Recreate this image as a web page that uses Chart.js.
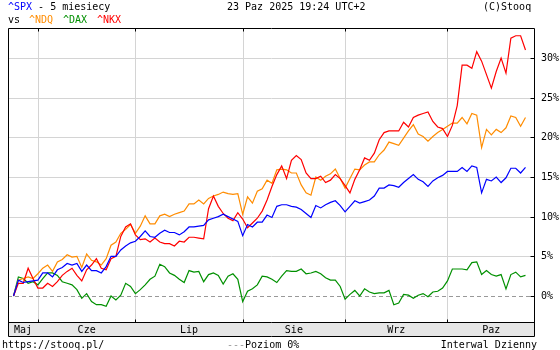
<!DOCTYPE html>
<html><head><meta charset="utf-8">
<script src="https://cdn.jsdelivr.net/npm/chart.js@4/dist/chart.umd.min.js"></script>
<style>
html,body{margin:0;padding:0;background:#fff;}
#wrap{position:relative;width:560px;height:350px;overflow:hidden;background:#fff;}
canvas{position:absolute;left:0;top:0;}
.t{position:absolute;font:10px "DejaVu Sans Mono",monospace;line-height:12px;white-space:pre;color:#000;}
</style></head><body>
<div id="wrap">
<canvas id="c" width="560" height="350"></canvas>
<div class="t" style="left:8px;top:1px"><span style="color:#0000ff">^SPX</span> - 5 miesiecy</div>
<div class="t" style="left:227px;top:1px">23 Paz 2025 19:24 UTC+2</div>
<div class="t" style="left:483px;top:1px">(C)Stooq</div>
<div class="t" style="left:8px;top:14px">vs</div>
<div class="t" style="left:29px;top:14px;color:#ff8c00">^NDQ</div>
<div class="t" style="left:63px;top:14px;color:#009000">^DAX</div>
<div class="t" style="left:97px;top:14px;color:#ff0000">^NKX</div>
<div class="t" style="left:2px;top:339px">https://stooq.pl/</div>
<div class="t" style="left:227px;top:339px"><span style="color:#999">---</span>Poziom 0%</div>
<div class="t" style="right:23px;top:339px">Interwal Dzienny</div>
</div>
<script>
// ---- data (percent change vs. first day), one value per trading day ----
const months = ["Maj","Cze","Lip","Sie","Wrz","Paz"];
const monthStart = [5, 25, 47, 68, 89];   // index of first trading day of Jun..Oct
const yTicks = [0, 5, 10, 15, 20, 25, 30];

const spx = [0,2.0,1.7,1.8,1.9,2.0,2.9,2.9,2.4,3.3,3.6,4.1,3.9,4.1,3.1,3.9,3.2,3.2,2.9,3.7,5.0,5.0,5.8,6.3,6.7,6.9,7.5,
 8.2,7.5,7.4,7.9,8.3,8.0,8.0,7.7,8.1,8.7,8.7,8.8,8.9,9.6,9.8,10.0,10.3,10.0,9.7,9.4,7.6,9.0,8.7,9.3,9.3,10.2,
 9.9,11.3,11.5,11.5,11.3,11.2,10.9,10.4,9.9,11.4,11.1,11.5,11.8,12.0,11.4,10.6,11.3,12.0,11.7,11.9,12.1,12.6,13.6,13.6,14.0,13.9,13.7,
 14.3,14.8,15.3,14.7,14.4,13.8,14.5,14.9,15.2,15.7,15.7,15.7,16.2,15.7,16.4,16.2,13.0,14.7,14.5,15.0,14.3,14.9,16.1,16.1,15.5,16.2];

const ndq = [0,2.0,2.2,2.4,2.2,2.8,3.5,3.9,3.1,4.3,4.6,5.2,4.9,5.0,3.6,5.3,4.5,4.3,3.9,4.7,6.4,6.8,7.9,8.4,9.0,7.9,8.8,
 10.1,9.1,9.1,10.1,10.3,10.0,10.3,10.5,10.7,11.6,11.6,12.1,11.6,12.3,12.6,12.8,13.1,12.9,12.8,12.9,10.3,12.5,11.7,13.2,13.5,14.6,
 14.2,15.9,16.0,15.9,15.5,15.5,14.0,13.0,12.7,15.0,14.6,15.1,15.4,16.0,14.8,13.6,14.8,16.0,15.9,16.5,16.9,16.9,17.8,18.4,19.4,19.2,19.0,
 19.9,20.8,21.6,20.4,20.1,19.5,20.1,20.6,21.0,21.4,21.8,21.8,22.5,21.7,23.0,22.8,18.7,21.0,20.3,21.0,20.6,21.2,22.7,22.5,21.4,22.5];

const dax = [0,2.4,2.2,1.6,1.8,1.4,2.2,2.9,2.9,2.6,1.8,1.6,1.4,0.8,-0.3,0.3,-0.7,-1.1,-1.1,-1.3,0.0,-0.5,0.1,1.6,1.2,0.3,0.8,
 1.4,2.1,2.5,4.0,3.7,2.9,2.6,2.1,1.7,3.2,3.0,3.1,1.8,2.7,2.9,2.6,1.5,2.5,2.8,2.1,-0.7,0.6,0.9,1.4,2.5,2.4,
 2.1,1.7,2.5,3.2,3.1,3.1,3.4,2.8,2.9,3.1,2.8,2.3,2.0,2.0,1.2,-0.4,0.2,0.7,0.0,0.9,0.5,0.3,0.4,0.4,0.7,-1.1,-0.9,
 0.2,0.1,-0.3,0.1,0.3,-0.1,0.5,0.6,1.0,1.9,3.4,3.4,3.4,3.3,4.2,4.3,2.7,3.2,2.7,2.5,2.7,0.9,2.7,3.0,2.4,2.6];

const nkx = [0,1.6,1.6,3.5,2.2,1.0,1.0,1.6,1.2,1.8,2.6,3.1,3.5,2.6,1.9,3.3,3.9,4.7,3.5,3.3,4.7,5.0,7.5,8.7,9.1,7.7,7.1,
 7.2,6.8,7.3,6.8,6.6,6.6,6.3,6.9,6.8,7.4,7.4,7.3,7.2,11.0,12.6,11.3,10.4,9.8,9.5,10.5,9.7,8.6,9.2,9.8,10.7,12.1,
 13.8,15.3,16.4,14.8,17.1,17.7,17.2,15.5,14.8,14.8,15.1,14.3,14.6,15.3,14.8,13.9,13.0,14.7,15.9,17.4,17.1,18.0,19.7,20.6,20.8,20.8,20.8,
 21.9,21.3,22.5,22.8,23.0,23.2,22.0,21.3,21.1,20.1,21.5,24.0,29.1,29.1,28.7,30.8,29.6,27.9,26.2,28.3,30.0,28.1,32.5,32.8,32.8,31.0];

const pts = arr => arr.map((v, i) => ({x: i, y: v}));

function seg(ctx, x1, y1, x2, y2){ ctx.beginPath(); ctx.moveTo(x1,y1); ctx.lineTo(x2,y2); ctx.stroke(); }

const frame = {
  id: 'frame',
  beforeDatasetsDraw(chart){
    const {ctx, chartArea:a, scales:{x, y}} = chart;
    ctx.save();
    ctx.lineWidth = 1;
    ctx.strokeStyle = '#d4d4d4';
    yTicks.forEach(v => { if (v === 0) return;
      const py = Math.round(y.getPixelForValue(v)) + 0.5; seg(ctx, a.left, py, a.right, py); });
    monthStart.forEach(i => {
      const px = Math.round(x.getPixelForValue(i)) + 0.5; seg(ctx, px, a.top, px, a.bottom); });
    ctx.setLineDash([4,3]);
    ctx.strokeStyle = '#999';
    const p0 = Math.round(y.getPixelForValue(0)) + 0.5;
    seg(ctx, a.left, p0, a.right, p0);
    ctx.restore();
  },
  afterDraw(chart){
    const {ctx, chartArea:a, scales:{x, y}} = chart;
    ctx.save();
    const stripB = 336;
    ctx.fillStyle = '#e6e6e6';
    ctx.fillRect(a.left, a.bottom, a.right - a.left, stripB - a.bottom);
    ctx.strokeStyle = '#000'; ctx.lineWidth = 1;
    const L = Math.round(a.left) + 0.5, R = Math.round(a.right) - 0.5;
    const T = Math.round(a.top) + 0.5, B = Math.round(a.bottom) + 0.5;
    seg(ctx, L, T, R, T);
    seg(ctx, L, T, L, stripB + 0.5);
    seg(ctx, R, T, R, stripB + 0.5);
    seg(ctx, L, B, R, B);
    seg(ctx, L, stripB + 0.5, R, stripB + 0.5);
    monthStart.forEach(i => {
      const px = Math.round(x.getPixelForValue(i)) + 0.5;
      seg(ctx, px, T, px, T + 3); seg(ctx, px, B - 3, px, B);
    });
    ctx.font = '10px "DejaVu Sans Mono", monospace';
    ctx.fillStyle = '#000';
    ctx.textBaseline = 'middle';
    ctx.textAlign = 'left';
    yTicks.forEach(v => {
      const py = Math.round(y.getPixelForValue(v)) + 0.5;
      seg(ctx, R - 4, py, R, py);
      ctx.fillText(v + '%', a.right + 6, py);
    });
    const bounds = [a.left, ...monthStart.map(i => x.getPixelForValue(i)), a.right];
    ctx.textAlign = 'center';
    months.forEach((m, k) => {
      ctx.fillText(m, (bounds[k] + bounds[k+1]) / 2, (a.bottom + stripB) / 2 + 1);
    });
    ctx.restore();
  }
};

new Chart(document.getElementById('c'), {
  type: 'line',
  data: {
    datasets: [
      {label: '^SPX', data: pts(spx), borderColor: '#0000ff'},
      {label: '^NKX', data: pts(nkx), borderColor: '#ff0000'},
      {label: '^NDQ', data: pts(ndq), borderColor: '#ff8c00'},
      {label: '^DAX', data: pts(dax), borderColor: '#009000'}
    ]
  },
  options: {
    responsive: false,
    animation: false,
    devicePixelRatio: 1,
    layout: {padding: {left: 8, top: 28, right: 25, bottom: 28}},
    elements: {line: {borderWidth: 1.2, tension: 0, fill: false}, point: {radius: 0}},
    plugins: {legend: {display: false}, tooltip: {enabled: false}},
    scales: {
      x: {type: 'linear', display: false, min: -1.13, max: 106.95},
      y: {type: 'linear', display: false, min: -3.28, max: 33.78}
    }
  },
  plugins: [frame]
});
</script>
</body></html>
